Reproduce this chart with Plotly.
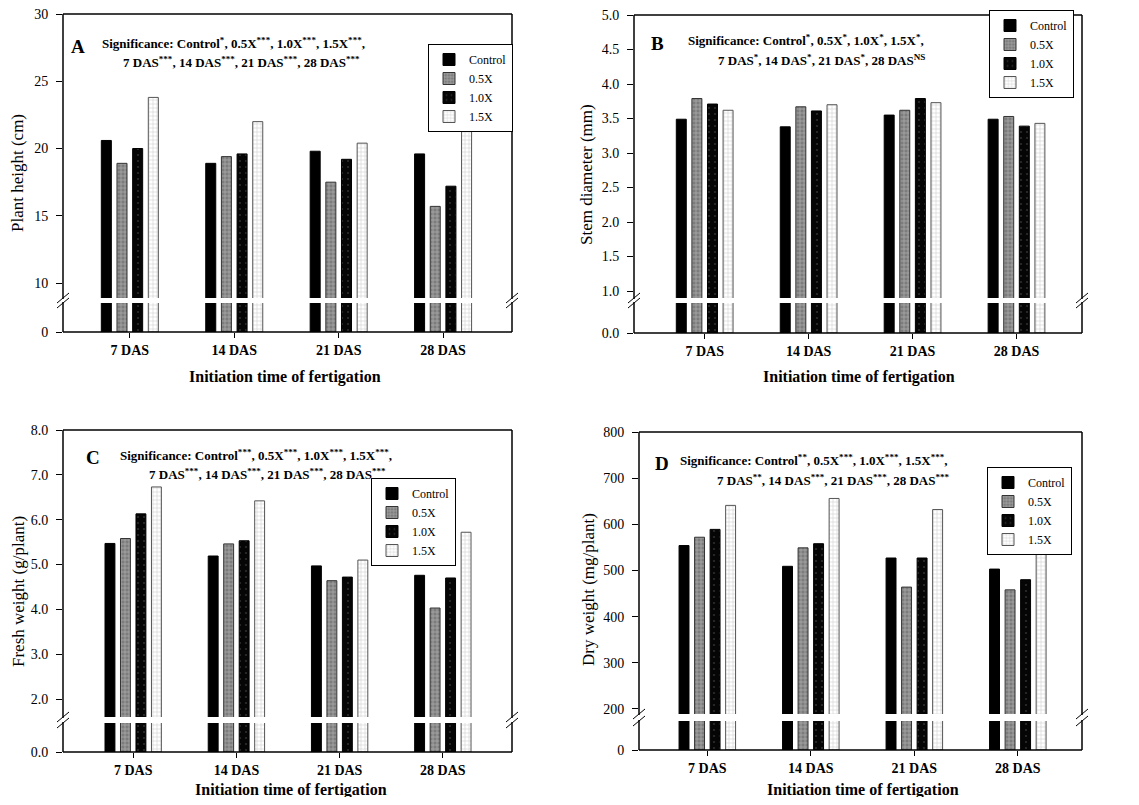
import plotly.graph_objects as go

# The page body has an 8px margin, so the figure is made 16px smaller and
# reference pixel positions are shifted by that margin.
PAGE_MARGIN = 8
W, H = 1139 - 2 * PAGE_MARGIN, 805 - 2 * PAGE_MARGIN

categories = ["7 DAS", "14 DAS", "21 DAS", "28 DAS"]
series_names = ["Control", "0.5X", "1.0X", "1.5X"]

# Panel A: Plant height (cm)
ph_control = [20.6, 18.9, 19.8, 19.6]
ph_05 = [18.9, 19.4, 17.5, 15.7]
ph_10 = [20.0, 19.6, 19.2, 17.2]
ph_15 = [23.8, 22.0, 20.4, 21.4]

# Panel B: Stem diameter (mm)
sd_control = [3.49, 3.38, 3.55, 3.49]
sd_05 = [3.79, 3.67, 3.62, 3.53]
sd_10 = [3.71, 3.61, 3.79, 3.39]
sd_15 = [3.62, 3.70, 3.73, 3.43]

# Panel C: Fresh weight (g/plant)
fw_control = [5.47, 5.19, 4.97, 4.76]
fw_05 = [5.58, 5.46, 4.64, 4.03]
fw_10 = [6.13, 5.53, 4.72, 4.70]
fw_15 = [6.73, 6.42, 5.10, 5.72]

# Panel D: Dry weight (mg/plant)
dw_control = [554, 509, 527, 503]
dw_05 = [572, 549, 464, 458]
dw_10 = [589, 558, 527, 480]
dw_15 = [641, 656, 632, 548]

# tick labels
a_ticks = [10, 15, 20, 25, 30]
b_ticks = [1.0, 1.5, 2.0, 2.5, 3.0, 3.5, 4.0, 4.5, 5.0]
c_ticks = [2.0, 3.0, 4.0, 5.0, 6.0, 7.0, 8.0]
d_ticks = [200, 300, 400, 500, 600, 700, 800]

SERIF = "Liberation Serif"

styles = {
    "Control": dict(color="black", line=dict(color="black", width=1)),
    "0.5X": dict(color="#8a8a8a", line=dict(color="#333", width=1),
                 pattern=dict(shape="+", bgcolor="#7c7c7c", fgcolor="#d8d8d8", size=4, solidity=0.35)),
    "1.0X": dict(color="black", line=dict(color="black", width=1),
                 pattern=dict(shape=".", bgcolor="#050505", fgcolor="#555", size=6, solidity=0.1)),
    "1.5X": dict(color="#eeeeee", line=dict(color="#555", width=1),
                 pattern=dict(shape="+", bgcolor="#ffffff", fgcolor="#a8a8a8", size=4, solidity=0.3)),
}

def fx(p):
    return (p - PAGE_MARGIN) / W

def fy(p):
    return 1 - (p - PAGE_MARGIN) / H

panels = [
    dict(letter="A", data=[ph_control, ph_05, ph_10, ph_15], L=63, R=512, top=14, bt=298, bb=303, bot=332,
         up_range=[8.89, 30], ticks=a_ticks, fmt="{:d}", low="0", xr=[-0.64, 3.66],
         ytitle="Plant height (cm)", ytx=17, yty=173, xtx=285, xty=377,
         sig1="Significance: Control<sup>*</sup>, 0.5X<sup>***</sup>, 1.0X<sup>***</sup>, 1.5X<sup>***</sup>,",
         sig2="7 DAS<sup>***</sup>, 14 DAS<sup>***</sup>, 21 DAS<sup>***</sup>, 28 DAS<sup>***</sup>",
         s1=(100, 43), s2=(121, 62), lt=(78, 47), leg=(513, 88)),
    dict(letter="B", data=[sd_control, sd_05, sd_10, sd_15], L=634, R=1082, top=15, bt=298, bb=303, bot=333,
         up_range=[0.9, 5.0], ticks=b_ticks, fmt="{:.1f}", low="0.0", xr=[-0.68, 3.63],
         ytitle="Stem diameter (mm)", ytx=586, yty=175, xtx=859, xty=377,
         sig1="Significance: Control<sup>*</sup>, 0.5X<sup>*</sup>, 1.0X<sup>*</sup>, 1.5X<sup>*</sup>,",
         sig2="7 DAS<sup>*</sup>, 14 DAS<sup>*</sup>, 21 DAS<sup>*</sup>, 28 DAS<sup>NS</sup>",
         s1=(686, 40), s2=(716, 60), lt=(657, 44), leg=(1074, 54)),
    dict(letter="C", data=[fw_control, fw_05, fw_10, fw_15], L=63, R=512, top=430, bt=717, bb=723, bot=752,
         up_range=[1.6, 8.0], ticks=c_ticks, fmt="{:.1f}", low="0.0", xr=[-0.68, 3.67],
         ytitle="Fresh weight (g/plant)", ytx=18, yty=592, xtx=291, xty=790,
         sig1="Significance: Control<sup>***</sup>, 0.5X<sup>***</sup>, 1.0X<sup>***</sup>, 1.5X<sup>***</sup>,",
         sig2="7 DAS<sup>***</sup>, 14 DAS<sup>***</sup>, 21 DAS<sup>***</sup>, 28 DAS<sup>***</sup>",
         s1=(118, 455), s2=(147, 474), lt=(93, 457), leg=(456, 522)),
    dict(letter="D", data=[dw_control, dw_05, dw_10, dw_15], L=639, R=1082, top=432, bt=714, bb=721, bot=750,
         up_range=[189, 800], ticks=d_ticks, fmt="{:d}", low="0", xr=[-0.66, 3.62],
         ytitle="Dry weight (mg/plant)", ytx=588, yty=590, xtx=863, xty=790,
         sig1="Significance: Control<sup>**</sup>, 0.5X<sup>***</sup>, 1.0X<sup>***</sup>, 1.5X<sup>***</sup>,",
         sig2="7 DAS<sup>**</sup>, 14 DAS<sup>***</sup>, 21 DAS<sup>***</sup>, 28 DAS<sup>***</sup>",
         s1=(678, 460), s2=(715, 480), lt=(662, 463), leg=(1072, 511)),
]

fig = go.Figure()
layout = dict(width=W, height=H, margin=dict(l=0, r=0, t=0, b=0, autoexpand=False), plot_bgcolor="white",
              paper_bgcolor="white", barmode="group", bargap=0.4, bargroupgap=0.36,
              font=dict(family=SERIF, color="black", size=13))
shapes = []
annotations = []

for i, p in enumerate(panels):
    xu, xl = 2 * i + 1, 2 * i + 2
    yu, yl = 2 * i + 1, 2 * i + 2
    xu_n = "x" if xu == 1 else f"x{xu}"
    xl_n = f"x{xl}"
    yu_n = "y" if yu == 1 else f"y{yu}"
    yl_n = f"y{yl}"
    legname = "legend" if i == 0 else f"legend{i + 1}"
    for s, name in enumerate(series_names):
        st = styles[name]
        marker = dict(color=st["color"], line=st["line"])
        if "pattern" in st:
            marker["pattern"] = st["pattern"]
        fig.add_trace(go.Bar(x=categories, y=p["data"][s], name=name, marker=marker,
                             xaxis=xu_n, yaxis=yu_n, legend=legname, showlegend=True))
        fig.add_trace(go.Bar(x=categories, y=p["data"][s], name=name, marker=marker,
                             xaxis=xl_n, yaxis=yl_n, showlegend=False))
    xdom = [fx(p["L"]), fx(p["R"])]
    layout[f"xaxis{'' if xu == 1 else xu}"] = dict(domain=xdom, anchor=yu_n, matches=xl_n,
                                                    showticklabels=False, ticks="", showline=False,
                                                    showgrid=False, zeroline=False)
    layout[f"xaxis{xl}"] = dict(domain=xdom, anchor=yl_n, range=p["xr"], type="category",
                                ticks="outside", ticklen=5, tickcolor="black", showline=False,
                                showgrid=False, zeroline=False, ticklabeloverflow="allow",
                                tickfont=dict(family=SERIF, size=14, weight="bold"))
    layout[f"yaxis{'' if yu == 1 else yu}"] = dict(domain=[fy(p["bt"]), fy(p["top"])], anchor=xu_n,
                                                    range=p["up_range"], tickvals=p["ticks"],
                                                    ticktext=[p["fmt"].format(t) for t in p["ticks"]],
                                                    ticks="outside", ticklen=6, tickcolor="black",
                                                    ticklabelstandoff=5, ticklabeloverflow="allow",
                                                    showgrid=False, zeroline=False, showline=False,
                                                    tickfont=dict(family=SERIF, size=14))
    layout[f"yaxis{yl}"] = dict(domain=[fy(p["bot"]), fy(p["bb"])], anchor=xl_n,
                                range=[0, p["up_range"][0]], tickvals=[0], ticktext=[p["low"]],
                                ticks="outside", ticklen=6, tickcolor="black",
                                ticklabelstandoff=5, ticklabeloverflow="allow",
                                showgrid=False, zeroline=False, showline=False,
                                tickfont=dict(family=SERIF, size=14))
    layout[legname] = dict(x=fx(p["leg"][0]), y=fy(p["leg"][1]), xanchor="right", yanchor="middle",
                           bordercolor="black", borderwidth=1, bgcolor="white",
                           font=dict(family=SERIF, size=12), itemwidth=30,
                           tracegroupgap=0)
    # frame
    lw = 1.5
    L, R = p["L"], p["R"]
    for (x0, y0, x1, y1) in [
        (L, p["top"], R, p["top"]),
        (L, p["bot"], R, p["bot"]),
        (L, p["top"], L, p["bt"] + 1), (L, p["bb"] - 1, L, p["bot"]),
        (R, p["top"], R, p["bt"] + 1), (R, p["bb"] - 1, R, p["bot"]),
    ]:
        shapes.append(dict(type="line", xref="paper", yref="paper", x0=fx(x0), y0=fy(y0), x1=fx(x1),
                           y1=fy(y1), line=dict(color="black", width=lw)))
    for xe in (L, R):
        for yb in (p["bt"], p["bb"]):
            shapes.append(dict(type="line", xref="paper", yref="paper", x0=fx(xe - 6), y0=fy(yb + 5),
                               x1=fx(xe + 6), y1=fy(yb - 5), line=dict(color="black", width=1)))
    # texts
    annotations.append(dict(text=f"<b>{p['letter']}</b>", x=fx(p["lt"][0]), y=fy(p["lt"][1]),
                            xref="paper", yref="paper", showarrow=False, xanchor="center",
                            yanchor="middle", font=dict(family=SERIF, size=19)))
    for txt, pos in ((p["sig1"], p["s1"]), (p["sig2"], p["s2"])):
        annotations.append(dict(text=f"<b>{txt}</b>", x=fx(pos[0]), y=fy(pos[1]), xref="paper",
                                yref="paper", showarrow=False, xanchor="left", yanchor="middle",
                                font=dict(family=SERIF, size=13)))
    annotations.append(dict(text=p["ytitle"], x=fx(p["ytx"]), y=fy(p["yty"]), xref="paper", yref="paper",
                            showarrow=False, textangle=-90, xanchor="center", yanchor="middle",
                            font=dict(family=SERIF, size=17)))
    annotations.append(dict(text="<b>Initiation time of fertigation</b>", x=fx(p["xtx"]), y=fy(p["xty"]),
                            xref="paper", yref="paper", showarrow=False, xanchor="center",
                            yanchor="middle", font=dict(family=SERIF, size=16)))

layout["shapes"] = shapes
layout["annotations"] = annotations
fig.update_layout(**layout)
fig.write_html("out.html")
